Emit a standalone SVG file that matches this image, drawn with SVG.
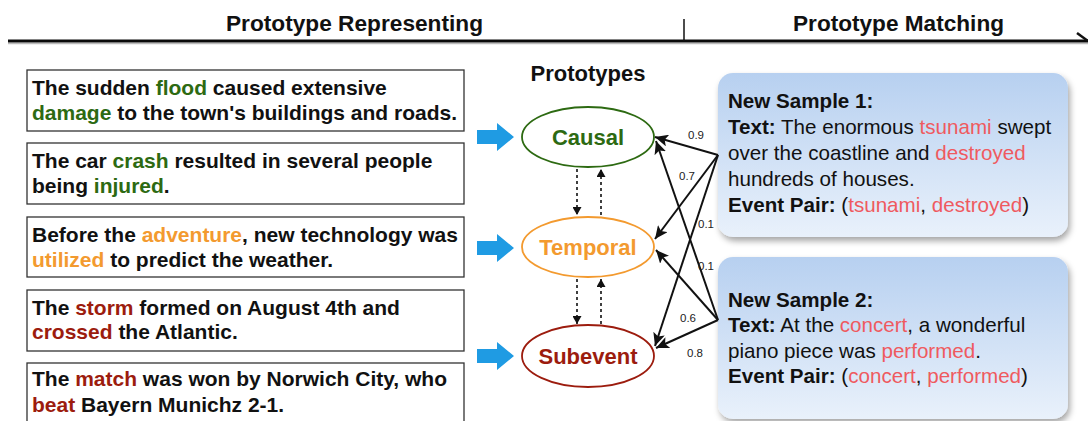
<svg xmlns="http://www.w3.org/2000/svg" width="1088" height="421" viewBox="0 0 1088 421">
<style>
text{font-family:"Liberation Sans",Arial,sans-serif;}
.title{font-size:22px;font-weight:bold;fill:#111;}
.sent{font-size:21px;font-weight:bold;fill:#111;}
.box{fill:#fff;stroke:#333;stroke-width:1.3;}
.g{fill:#2d6a12;}
.o{fill:#f39a2f;}
.r{fill:#9c1c0e;}
.blue{fill:#1f9be3;}
.proto{font-size:22px;font-weight:bold;text-anchor:middle;}
.samp{fill:url(#sg);filter:url(#sh);}
.st{font-size:20.6px;fill:#111;}
.b{font-weight:bold;}
.red{fill:#ef5a5f;}
.conn{stroke:#111;stroke-width:2;fill:none;marker-end:url(#ah);}
.dot{stroke:#111;stroke-width:1.6;stroke-dasharray:3,3;fill:none;marker-end:url(#dh);}
.lbl{font-size:11.5px;fill:#222;text-anchor:middle;}
</style>
<defs>
<linearGradient id="sg" x1="0" y1="0" x2="0" y2="1">
<stop offset="0" stop-color="#b7d0f0"/>
<stop offset="1" stop-color="#e9f1fb"/>
</linearGradient>
<filter id="sh" x="-10%" y="-10%" width="125%" height="130%">
<feDropShadow dx="2" dy="4" stdDeviation="3" flood-color="#000" flood-opacity="0.35"/>
</filter>
<marker id="ah" markerWidth="14" markerHeight="12" refX="13" refY="6" orient="auto" markerUnits="userSpaceOnUse">
<path d="M0,0 L13,6 L0,12 L3,6 Z" fill="#111"/>
</marker>
<marker id="dh" markerWidth="9" markerHeight="9" refX="8" refY="4.5" orient="auto" markerUnits="userSpaceOnUse">
<path d="M0,0 L8,4.5 L0,9 Z" fill="#111"/>
</marker>
</defs>

<g id="header">
<line x1="8" y1="43.5" x2="1088" y2="43.5" stroke="#bbb" stroke-width="1.5"/>
<line x1="8" y1="41" x2="1088" y2="41" stroke="#0a0a0a" stroke-width="3.2"/>
<line x1="684" y1="19" x2="684" y2="41" stroke="#111" stroke-width="1.5"/>
<line x1="1077" y1="33" x2="1088" y2="41" stroke="#111" stroke-width="2.5"/>
<text class="title" x="226" y="31" textLength="257" lengthAdjust="spacingAndGlyphs">Prototype Representing</text>
<text class="title" x="793" y="31" textLength="211" lengthAdjust="spacingAndGlyphs">Prototype Matching</text>
</g>

<g id="sentence1">
<rect class="box" x="27" y="70" width="437" height="61"/>
<text class="sent" x="32" y="95">The sudden <tspan class="g">flood</tspan> caused extensive</text>
<text class="sent" x="32" y="120"><tspan class="g">damage</tspan> to the town's buildings and roads.</text>
</g>
<g id="sentence2">
<rect class="box" x="27" y="143" width="437" height="61"/>
<text class="sent" x="32" y="168">The car <tspan class="g">crash</tspan> resulted in several people</text>
<text class="sent" x="32" y="193">being <tspan class="g">injured</tspan>.</text>
</g>
<g id="sentence3">
<rect class="box" x="27" y="217" width="437" height="60"/>
<text class="sent" x="32" y="242">Before the <tspan class="o">adventure</tspan>, new technology was</text>
<text class="sent" x="32" y="267"><tspan class="o">utilized</tspan> to predict the weather.</text>
</g>
<g id="sentence4">
<rect class="box" x="27" y="290" width="437" height="61"/>
<text class="sent" x="32" y="315">The <tspan class="r">storm</tspan> formed on August 4th and</text>
<text class="sent" x="32" y="339"><tspan class="r">crossed</tspan> the Atlantic.</text>
</g>
<g id="sentence5">
<rect class="box" x="27" y="363" width="437" height="70"/>
<text class="sent" x="32" y="386">The <tspan class="r">match</tspan> was won by Norwich City, who</text>
<text class="sent" x="32" y="412"><tspan class="r">beat</tspan> Bayern Munichz 2-1.</text>
</g>

<g id="blue-arrows">
<polygon class="blue" points="477,130 497,130 497,123 514,137 497,151 497,144 477,144"/>
<polygon class="blue" points="477,241 497,241 497,234 514,248 497,262 497,255 477,255"/>
<polygon class="blue" points="477,349 497,349 497,342 514,356 497,370 497,363 477,363"/>
</g>

<g id="prototypes-title">
<text x="588" y="81" class="proto" style="fill:#111">Prototypes</text>
</g>
<g id="causal">
<ellipse cx="588" cy="137" rx="66" ry="30" fill="#fff" stroke="#2d6a12" stroke-width="1.8"/>
<text class="proto g" x="588" y="145">Causal</text>
</g>
<g id="temporal">
<ellipse cx="588" cy="247" rx="66" ry="30" fill="#fff" stroke="#f39a2f" stroke-width="1.8"/>
<text class="proto o" x="588" y="255">Temporal</text>
</g>
<g id="subevent">
<ellipse cx="588" cy="356" rx="66" ry="31" fill="#fff" stroke="#9c1c0e" stroke-width="1.8"/>
<text class="proto r" x="588" y="364">Subevent</text>
</g>

<g id="sample1">
<rect class="samp" x="718" y="73" width="350" height="164" rx="15"/>
<text class="st" x="728" y="108"><tspan class="b">New Sample 1:</tspan></text>
<text class="st" x="728" y="134"><tspan class="b">Text:</tspan> The enormous <tspan class="red">tsunami</tspan> swept</text>
<text class="st" x="728" y="160">over the coastline and <tspan class="red">destroyed</tspan></text>
<text class="st" x="728" y="186">hundreds of houses.</text>
<text class="st" x="728" y="212"><tspan class="b">Event Pair:</tspan> (<tspan class="red">tsunami</tspan>, <tspan class="red">destroyed</tspan>)</text>
</g>
<g id="sample2">
<rect class="samp" x="718" y="257" width="350" height="162" rx="15"/>
<text class="st" x="728" y="307"><tspan class="b">New Sample 2:</tspan></text>
<text class="st" x="728" y="332"><tspan class="b">Text:</tspan> At the <tspan class="red">concert</tspan>, a wonderful</text>
<text class="st" x="728" y="358">piano piece was <tspan class="red">performed</tspan>.</text>
<text class="st" x="728" y="383"><tspan class="b">Event Pair:</tspan> (<tspan class="red">concert</tspan>, <tspan class="red">performed</tspan>)</text>
</g>

<g id="connectors">
<line class="dot" x1="577" y1="169" x2="577" y2="215"/>
<line class="dot" x1="601" y1="215" x2="601" y2="169"/>
<line class="dot" x1="577" y1="279" x2="577" y2="324"/>
<line class="dot" x1="601" y1="324" x2="601" y2="279"/>
<line class="conn" x1="718" y1="155" x2="655" y2="137"/>
<line class="conn" x1="718" y1="155" x2="655" y2="239"/>
<line class="conn" x1="718" y1="155" x2="655" y2="346"/>
<line class="conn" x1="718" y1="320" x2="656" y2="141"/>
<line class="conn" x1="718" y1="320" x2="656" y2="250"/>
<line class="conn" x1="718" y1="320" x2="656" y2="348"/>
<text class="lbl" x="696" y="139">0.9</text>
<text class="lbl" x="687" y="180">0.7</text>
<text class="lbl" x="706" y="228">0.1</text>
<text class="lbl" x="706" y="270">0.1</text>
<text class="lbl" x="688" y="322">0.6</text>
<text class="lbl" x="695" y="357">0.8</text>
</g>
</svg>
